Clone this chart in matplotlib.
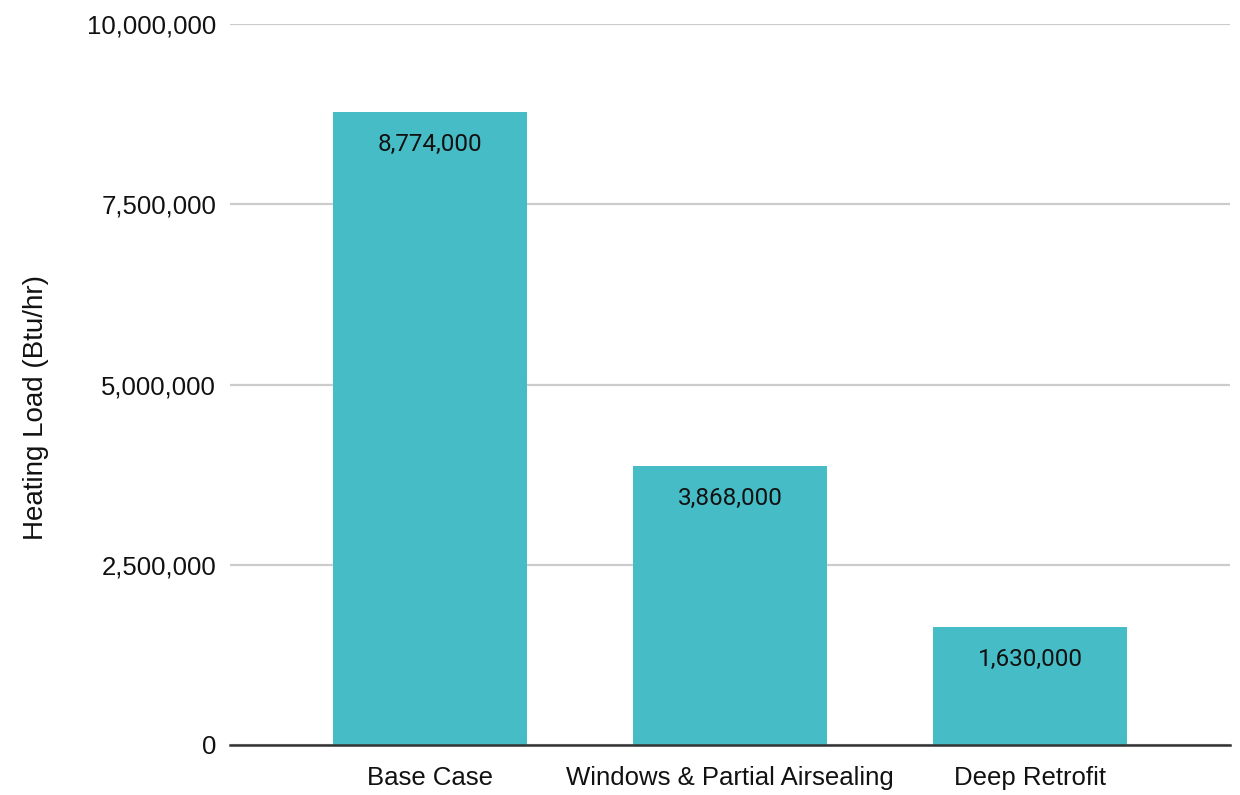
import matplotlib.pyplot as plt
import matplotlib.ticker as ticker

categories = ['Base Case', 'Windows & Partial Airsealing', 'Deep Retrofit']
heating_load = [8774000, 3868000, 1630000]
y_ticks = [0, 2500000, 5000000, 7500000, 10000000]

bar_color = '#46bdc6'

fig = plt.figure(figsize=(12.4, 7.95), dpi=100)
ax = fig.add_axes([230 / 1240, 1 - 745 / 795, 1000 / 1240, (745 - 24) / 795])

x = range(len(categories))
bars = ax.bar(x, heating_load, width=0.645, color=bar_color, zorder=2)

for b, v in zip(bars, heating_load):
    ax.annotate('{:,}'.format(v), (b.get_x() + b.get_width() / 2, v),
                xytext=(0, -32), textcoords='offset pixels',
                ha='center', va='center', fontsize=17.5, family='Roboto',
                fontstretch='normal', color='#111111', zorder=3)

ax.set_xlim(-0.667, 2.667)
ax.set_ylim(0, 10000000)
ax.set_yticks(y_ticks)
ax.yaxis.set_major_formatter(ticker.FuncFormatter(lambda v, p: '{:,}'.format(int(v))))
ax.set_xticks(list(x))
ax.set_xticklabels(categories)

ax.grid(axis='y', color='#cccccc', linewidth=1.6, zorder=0)
ax.tick_params(axis='both', length=0, labelsize=18.5, colors='#111111')
ax.tick_params(axis='y', pad=10)
ax.tick_params(axis='x', pad=15)
for lbl in ax.get_xticklabels() + ax.get_yticklabels():
    lbl.set_family('Liberation Sans')

for s in ['top', 'right', 'left']:
    ax.spines[s].set_visible(False)
ax.spines['bottom'].set_color('#333333')
ax.spines['bottom'].set_linewidth(1.8)
ax.spines['bottom'].set_zorder(4)

fig.text(36 / 1240, 1 - 407 / 795, 'Heating Load (Btu/hr)', rotation=90,
         ha='center', va='center', fontsize=20, family='Liberation Sans', color='#111111')

fig.savefig('out.png', dpi=100)
